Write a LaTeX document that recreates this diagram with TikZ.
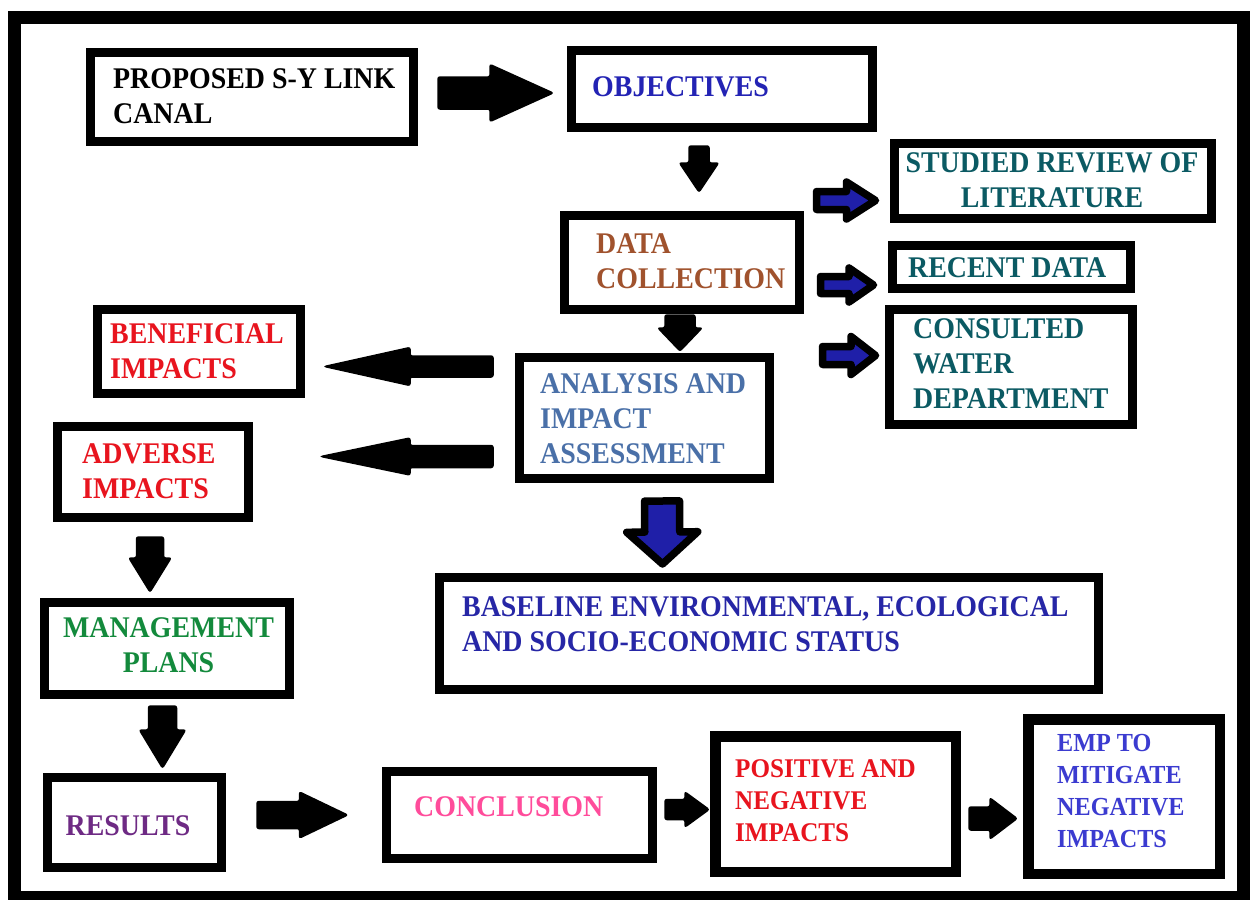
\documentclass[tikz,border=0pt]{standalone}
\usepackage{fontspec}
\usetikzlibrary{calc}
\newfontfamily\boxfont{Liberation Serif}[FakeStretch=0.93]

\definecolor{cobj}{HTML}{2323B4}
\definecolor{cteal}{HTML}{0B5A63}
\definecolor{cbrown}{HTML}{A0522D}
\definecolor{csteel}{HTML}{4A70A8}
\definecolor{cred}{HTML}{E8141E}
\definecolor{cgreen}{HTML}{138A3C}
\definecolor{cpurple}{HTML}{6E2A84}
\definecolor{cpink}{HTML}{FF4C9B}
\definecolor{cbase}{HTML}{2626A6}
\definecolor{cemp}{HTML}{3B3BD0}
\definecolor{arrowblue}{HTML}{1F1FA8}

\tikzset{
  box/.style={draw=black, line width=9pt, rectangle, inner sep=0pt, outer sep=0pt, fill=white},
  thickbox/.style={box, line width=10.5pt},
  % multi-line texts are anchored at the baseline of their last line
  txt/.style={font=\boxfont\bfseries\fontsize{30}{35}\selectfont, inner sep=0pt, align=left, anchor=base west},
  smalltxt/.style={txt, font=\boxfont\bfseries\fontsize{27}{32}\selectfont},
  tinytxt/.style={txt, font=\boxfont\bfseries\fontsize{26}{31.7}\selectfont},
  blackarrow/.style={fill=black, draw=black, line width=1.5pt, rounded corners=2pt},
  bluearrow/.style={fill=arrowblue, draw=black, line width=7.5pt, line join=round},
}

% block arrow: style, tail, tip, shaft half width, head half width, head length
\newcommand\blockarrow[6]{%
  \coordinate (ba-head) at ($(#3)!#6!(#2)$);
  \draw[#1] ($(#2)!#4!90:(#3)$) -- ($(ba-head)!#4!90:(#3)$) -- ($(ba-head)!#5!90:(#3)$) -- (#3)
    -- ($(ba-head)!#5!-90:(#3)$) -- ($(ba-head)!#4!-90:(#3)$) -- ($(#2)!#4!-90:(#3)$) -- cycle;
}

\begin{document}
\begin{tikzpicture}[x=1pt, y=-1pt]
\useasboundingbox (0,0) rectangle (1257,899);
\fill[white] (0,0) rectangle (1257,899);

% outer frame
\draw[line width=13pt] (14,18) rectangle (1243,897.5);

% boxes
\node[box, minimum width=323pt, minimum height=89pt] (prop) at (252,97) {};
\node[box, minimum width=301pt, minimum height=77pt] (obj) at (722,89) {};
\node[box, minimum width=317pt, minimum height=75pt] (stud) at (1053,181) {};
\node[box, minimum width=238pt, minimum height=43pt] (recent) at (1011.5,267) {};
\node[box, minimum width=243pt, minimum height=115pt] (cons) at (1011,367) {};
\node[box, minimum width=235pt, minimum height=94pt] (data) at (682,262.5) {};
\node[box, minimum width=250pt, minimum height=121pt] (anal) at (644.5,418) {};
\node[box, minimum width=203pt, minimum height=84pt] (bene) at (199,351.5) {};
\node[box, minimum width=191pt, minimum height=91pt] (adv) at (153,472) {};
\node[box, minimum width=245pt, minimum height=92pt] (mgmt) at (167,648.5) {};
\node[box, minimum width=174pt, minimum height=90pt] (res) at (134.5,822.5) {};
\node[box, minimum width=266pt, minimum height=87pt] (conc) at (519.5,815) {};
\node[box, minimum width=659pt, minimum height=112pt] (base) at (769,633.5) {};
\node[thickbox, minimum width=240.5pt, minimum height=135.5pt] (pos) at (835.5,804) {};
\node[thickbox, minimum width=191.5pt, minimum height=154.5pt] (emp) at (1124,796.5) {};

% box texts
\node[txt] (prop-t) at (113,123) {PROPOSED S-Y LINK\\CANAL};
\node[txt, text=cobj] (obj-t) at (592,96) {OBJECTIVES};
\node[txt, text=cteal, align=center, anchor=base] (stud-t) at (1052,207) {STUDIED REVIEW OF\\LITERATURE};
\node[txt, text=cteal] (recent-t) at (908,277) {RECENT DATA};
\node[txt, text=cteal] (cons-t) at (913,408) {CONSULTED\\WATER\\DEPARTMENT};
\node[txt, text=cbrown] (data-t) at (596,288) {DATA\\COLLECTION};
\node[txt, text=csteel] (anal-t) at (540,463) {ANALYSIS AND\\IMPACT\\ASSESSMENT};
\node[txt, text=cred] (bene-t) at (110,378) {BENEFICIAL\\IMPACTS};
\node[txt, text=cred] (adv-t) at (82,498) {ADVERSE\\IMPACTS};
\node[txt, text=cgreen, align=center, anchor=base] (mgmt-t) at (168.5,672) {MANAGEMENT\\PLANS};
\node[txt, text=cpurple] (res-t) at (65.5,835) {RESULTS};
\node[txt, text=cpink] (conc-t) at (414,816) {CONCLUSION};
\node[txt, text=cbase] (base-t) at (462,651) {BASELINE ENVIRONMENTAL, ECOLOGICAL\\AND SOCIO-ECONOMIC STATUS};
\node[smalltxt, text=cred] (pos-t) at (735,841) {POSITIVE AND\\NEGATIVE\\IMPACTS};
\node[tinytxt, text=cemp] (emp-t) at (1057,847) {EMP TO\\MITIGATE\\NEGATIVE\\IMPACTS};

% arrow ends
\coordinate (a1s) at ($(prop.east)+(24.5,-4)$);
\coordinate (a1e) at ($(obj.west)+(-18.5,4)$);
\coordinate (a2s) at ($(obj.south)+(-23,18.5)$);
\coordinate (a2e) at ($(data.north)+(17,-23.5)$);
\coordinate (a3s) at ($(data.south)+(-2,5.5)$);
\coordinate (a3e) at ($(anal.north)+(35.5,-6.5)$);
\coordinate (a4s) at ($(data.east)+(17,-62)$);
\coordinate (a4e) at ($(stud.west)+(-19,19.5)$);
\coordinate (a5s) at ($(data.east)+(21,22.5)$);
\coordinate (a5e) at ($(recent.west)+(-19,18)$);
\coordinate (a6s) at ($(data.east)+(23,93)$);
\coordinate (a6e) at ($(cons.west)+(-14,-11.5)$);
\coordinate (a7s) at ($(anal.west)+(-26.5,-51.5)$);
\coordinate (a7e) at ($(bene.east)+(24,15)$);
\coordinate (a8s) at ($(anal.west)+(-26.5,38.5)$);
\coordinate (a8e) at ($(adv.east)+(72.5,-15.5)$);
\coordinate (a9s) at ($(anal.south)+(17.5,22.5)$);
\coordinate (a9e) at ($(base.north)+(-106.5,-13.5)$);
\coordinate (a10s) at ($(adv.south)+(-3,19.5)$);
\coordinate (a10e) at ($(mgmt.north)+(-17,-10.5)$);
\coordinate (a11s) at ($(mgmt.south)+(-4.5,11.5)$);
\coordinate (a11e) at ($(res.north)+(28,-9.5)$);
\coordinate (a12s) at ($(res.east)+(35.5,-7.5)$);
\coordinate (a12e) at ($(conc.west)+(-39,0)$);
\coordinate (a13s) at ($(conc.east)+(12.5,-5.5)$);
\coordinate (a13e) at ($(pos.west)+(-6.25,5.5)$);
\coordinate (a14s) at ($(pos.east)+(13.25,14.5)$);
\coordinate (a14e) at ($(emp.west)+(-11.25,22)$);

% connectors
\blockarrow{blackarrow}{a1s}{a1e}{16pt}{28.5pt}{63pt}
\blockarrow{blackarrow}{a2s}{a2e}{10pt}{19.5pt}{29pt}
\blockarrow{blackarrow}{a3s}{a3e}{15pt}{22pt}{23pt}
\blockarrow{bluearrow}{a4s}{a4e}{9pt}{18.5pt}{29pt}
\blockarrow{bluearrow}{a5s}{a5e}{8.5pt}{17pt}{24.5pt}
\blockarrow{bluearrow}{a6s}{a6e}{9pt}{19pt}{24.5pt}
\blockarrow{blackarrow}{a7s}{a7e}{10.5pt}{19pt}{85.5pt}
\blockarrow{blackarrow}{a8s}{a8e}{11pt}{18.5pt}{89pt}
\blockarrow{bluearrow}{a9s}{a9e}{17.5pt}{35.5pt}{32pt}
\blockarrow{blackarrow}{a10s}{a10e}{13.5pt}{21pt}{34pt}
\blockarrow{blackarrow}{a11s}{a11e}{14pt}{23pt}{38pt}
\blockarrow{blackarrow}{a12s}{a12e}{13.5pt}{23pt}{48pt}
\blockarrow{blackarrow}{a13s}{a13e}{10pt}{17.5pt}{24pt}
\blockarrow{blackarrow}{a14s}{a14e}{11.5pt}{20.5pt}{27pt}
\end{tikzpicture}
\end{document}
